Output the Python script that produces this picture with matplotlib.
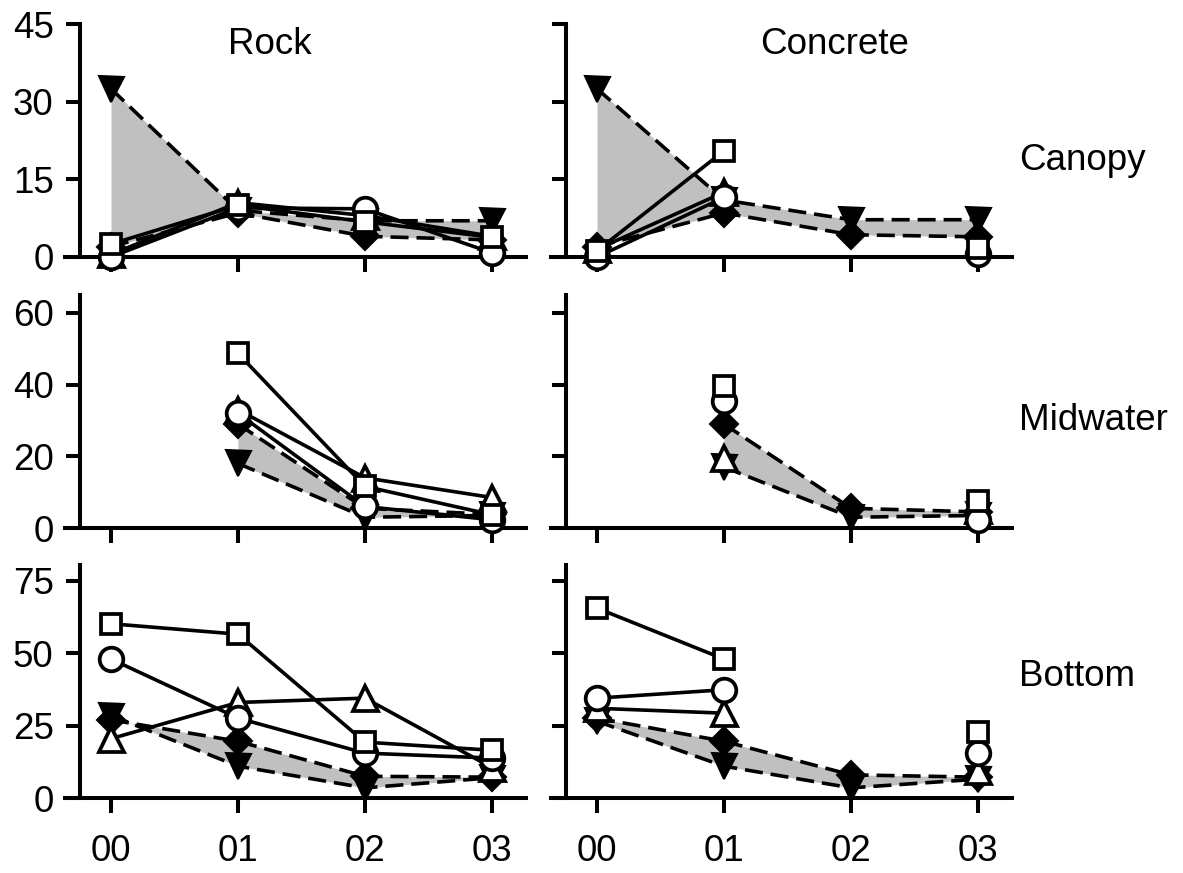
import numpy as np
import matplotlib.pyplot as plt

plt.rcParams['font.family'] = ['Liberation Sans', 'DejaVu Sans']

nan = np.nan
x = np.arange(4)
xlabels = ['00', '01', '02', '03']
col_titles = ['Rock', 'Concrete']
row_titles = ['Canopy', 'Midwater', 'Bottom']
row_yticks = [[0, 15, 30, 45], [0, 20, 40, 60], [0, 25, 50, 75]]
row_ytop = [45, 65, 80.5]

# Rock / Canopy
rock_can_sq = [2.5, 10.0, 6.8, 3.8]
rock_can_ci = [0.0, 9.5, 9.3, 0.8]
rock_can_tu = [0.5, 10.5, 8.0, 4.0]
rock_can_di = [2.0, 8.5, 4.0, 3.3]
rock_can_td = [32.5, 9.0, 7.0, 7.0]

# Concrete / Canopy
con_can_sq = [1.2, 20.5, nan, 1.8]
con_can_ci = [0.0, 11.5, nan, 0.5]
con_can_tu = [1.5, 12.5, nan, 2.5]
con_can_di = [2.0, 8.5, 4.3, 3.9]
con_can_td = [32.5, 11.0, 7.2, 7.2]

# Rock / Midwater
rock_mid_sq = [nan, 48.7, 11.6, 3.7]
rock_mid_ci = [nan, 32.0, 6.0, 2.3]
rock_mid_tu = [nan, 33.0, 14.0, 8.5]
rock_mid_di = [nan, 29.0, 5.5, 3.8]
rock_mid_td = [nan, 18.0, 3.0, 3.5]

# Concrete / Midwater
con_mid_sq = [nan, 39.5, nan, 7.4]
con_mid_ci = [nan, 35.3, nan, 2.3]
con_mid_tu = [nan, 19.5, nan, 5.0]
con_mid_di = [nan, 29.0, 5.5, 4.5]
con_mid_td = [nan, 17.0, 3.0, 3.5]

# Rock / Bottom
rock_bot_sq = [60.2, 56.6, 19.3, 16.5]
rock_bot_ci = [48.0, 27.6, 15.5, 13.8]
rock_bot_tu = [20.5, 33.0, 34.5, 10.5]
rock_bot_di = [27.0, 19.6, 7.5, 7.2]
rock_bot_td = [28.5, 11.0, 3.5, 7.0]

# Concrete / Bottom
con_bot_sq = [65.6, 48.0, nan, 22.7]
con_bot_ci = [34.5, 37.4, nan, 15.5]
con_bot_tu = [31.0, 29.3, nan, 9.5]
con_bot_di = [27.6, 19.6, 8.0, 7.2]
con_bot_td = [26.5, 11.0, 3.5, 6.5]

panels = [
    [(rock_can_sq, rock_can_ci, rock_can_tu, rock_can_di, rock_can_td),
     (con_can_sq, con_can_ci, con_can_tu, con_can_di, con_can_td)],
    [(rock_mid_sq, rock_mid_ci, rock_mid_tu, rock_mid_di, rock_mid_td),
     (con_mid_sq, con_mid_ci, con_mid_tu, con_mid_di, con_mid_td)],
    [(rock_bot_sq, rock_bot_ci, rock_bot_tu, rock_bot_di, rock_bot_td),
     (con_bot_sq, con_bot_ci, con_bot_tu, con_bot_di, con_bot_td)],
]

W, H = 1183, 873
fig = plt.figure(figsize=(W / 100, H / 100), dpi=100)

fs = 26.5
lw = 2.6
dash = (0, (5.0, 2.2))
xmin, xmax = -0.36, 3.265
unit = 127.0
x0_px = [111, 597]          # pixel position of "00" in each column
row_bottom_px = [257, 528, 798]
ax_h_px = 233

for r in range(3):
    for c in range(2):
        left_px = x0_px[c] + xmin * unit
        ax = fig.add_axes([left_px / W, 1 - row_bottom_px[r] / H,
                           (xmax - xmin) * unit / W, ax_h_px / H])
        sq, ci, tu, di, td = panels[r][c]

        ax.fill_between(x, np.array(di), np.array(td), color='#c0c0c0',
                        lw=0, zorder=1)
        ax.plot(x, td, ls=dash, color='k', lw=lw, marker='v', ms=18,
                mfc='k', mec='k', mew=1.5, zorder=3, clip_on=False)
        ax.plot(x, di, ls=dash, color='k', lw=lw, marker='D', ms=14,
                mfc='k', mec='k', mew=1.5, zorder=3.1, clip_on=False)
        ax.plot(x, tu, '-', color='k', lw=lw, marker='^', ms=18,
                mfc='white', mec='k', mew=2.7, zorder=4, clip_on=False)
        ax.plot(x, ci, '-', color='k', lw=lw, marker='o', ms=17,
                mfc='white', mec='k', mew=2.7, zorder=4.1, clip_on=False)
        ax.plot(x, sq, '-', color='k', lw=lw, marker='s', ms=15,
                mfc='white', mec='k', mew=2.7, zorder=4.2, clip_on=False)

        ax.set_xlim(xmin, xmax)
        ax.set_ylim(0, row_ytop[r])
        ax.set_xticks(x)
        ax.set_yticks(row_yticks[r])
        for s in ['top', 'right']:
            ax.spines[s].set_visible(False)
        ax.spines['left'].set_position(('data', -0.244))
        for s in ['left', 'bottom']:
            ax.spines[s].set_linewidth(2.9)
        ax.tick_params(axis='y', direction='out', length=10, width=2.9,
                       labelsize=fs, pad=9)
        ax.tick_params(axis='x', direction='out', length=11, width=2.9,
                       labelsize=fs, pad=15)
        if r == 2:
            ax.set_xticklabels(xlabels)
        else:
            ax.set_xticklabels([])
        if c == 1:
            ax.set_yticklabels([])

fig.text(270 / W, 1 - 45 / H, col_titles[0], fontsize=fs, ha='center', va='center')
fig.text(835 / W, 1 - 45 / H, col_titles[1], fontsize=fs, ha='center', va='center')
for r, y in enumerate([160, 420, 677]):
    fig.text(1019 / W, 1 - y / H, row_titles[r], fontsize=fs, ha='left', va='center')

fig.savefig('out.png', dpi=100)
